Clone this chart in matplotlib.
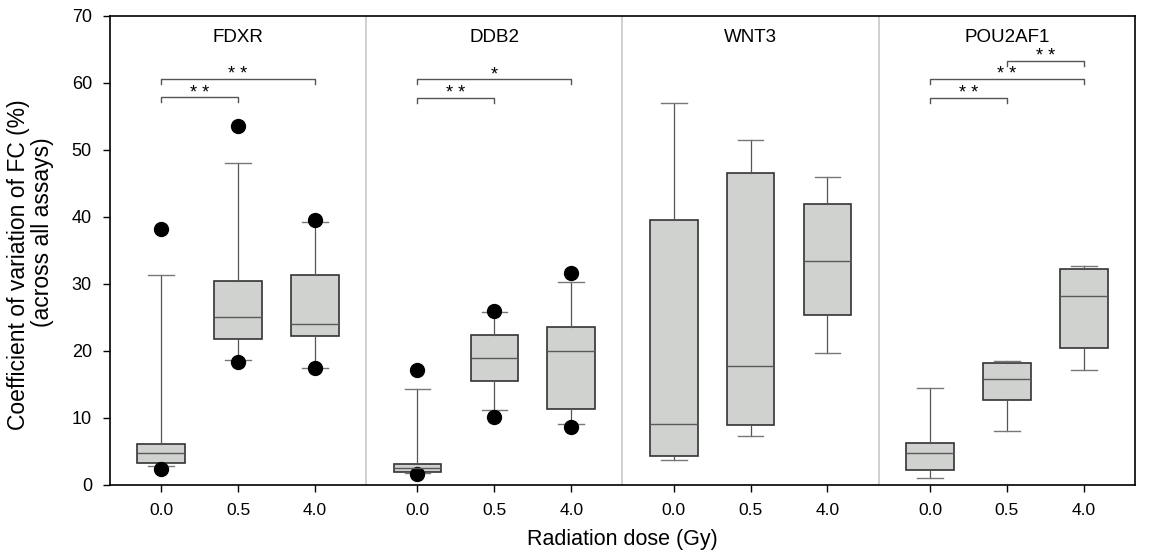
import matplotlib
matplotlib.use('Agg')
import matplotlib.pyplot as plt

plt.rcParams.update({
    'font.family': ['Liberation Sans', 'DejaVu Sans'],
    'font.size': 13,
})

GENES = ['FDXR', 'DDB2', 'WNT3', 'POU2AF1']
DOSES = ['0.0', '0.5', '4.0']

# box statistics per gene, per dose (0.0, 0.5, 4.0)
WHISLO = [[2.8, 18.7, 17.4], [1.8, 11.2, 9.1], [3.7, 7.3, 19.7], [1.1, 8.0, 17.2]]
Q1 = [[3.3, 21.8, 22.2], [1.9, 15.5, 11.3], [4.3, 8.9, 25.3], [2.2, 12.7, 20.4]]
MED = [[4.7, 25.1, 24.0], [2.6, 18.9, 20.0], [9.1, 17.8, 33.4], [4.8, 15.8, 28.2]]
Q3 = [[6.1, 30.5, 31.4], [3.1, 22.4, 23.6], [39.6, 46.5, 41.9], [6.2, 18.2, 32.3]]
WHISHI = [[31.4, 48.1, 39.2], [14.3, 25.8, 30.3], [57.0, 51.5, 45.9], [14.5, 18.5, 32.7]]
FLIERS = [[[2.4, 38.2], [18.3, 53.6], [17.4, 39.6]],
          [[1.6, 17.1], [10.1, 26.0], [8.7, 31.6]],
          [[], [], []],
          [[], [], []]]

# significance brackets: (gene index, dose from, dose to, height, label)
SIG = [(0, 0, 1, 57.9, '* *'), (0, 0, 2, 60.6, '* *'),
       (1, 0, 1, 57.8, '* *'), (1, 0, 2, 60.6, '*'),
       (3, 0, 1, 57.8, '* *'), (3, 0, 2, 60.6, '* *'), (3, 1, 2, 63.3, '* *')]

OFFSETS = [0.2, 0.5, 0.8]

fig = plt.figure(figsize=(11.55, 5.59), dpi=100)
ax = fig.add_axes([0.0952, 0.1324, 0.8875, 0.839])

stats, positions = [], []
for g in range(len(GENES)):
    for d in range(len(DOSES)):
        stats.append(dict(med=MED[g][d], q1=Q1[g][d], q3=Q3[g][d],
                          whislo=WHISLO[g][d], whishi=WHISHI[g][d],
                          fliers=FLIERS[g][d]))
        positions.append(g + OFFSETS[d])

ax.bxp(stats, positions=positions, widths=0.186, patch_artist=True,
       showfliers=True,
       boxprops=dict(facecolor='#d0d2d0', edgecolor='#333333', linewidth=1.2),
       medianprops=dict(color='#5a5a5a', linewidth=1.0),
       whiskerprops=dict(color='#555555', linewidth=0.9),
       capprops=dict(color='#777777', linewidth=1.0),
       capwidths=0.1,
       flierprops=dict(marker='o', markerfacecolor='black',
                       markeredgecolor='black', markersize=10))

for g in range(1, len(GENES)):
    ax.axvline(g, color='#c8c8c8', linewidth=1.2, zorder=0)

for g, name in enumerate(GENES):
    ax.text(g + 0.5, 66.8, name, ha='center', va='center', fontsize=13.5)

for g, a, b, h, lab in SIG:
    x0, x1 = g + OFFSETS[a], g + OFFSETS[b]
    ax.plot([x0, x0, x1, x1], [h - 0.8, h, h, h - 0.8], color='#555555',
            linewidth=1.0)
    ax.text((x0 + x1) / 2, h + 0.6, lab, ha='center', va='center', fontsize=13)

ax.set_xlim(0, 4)
ax.set_ylim(0, 70)
ax.set_yticks(range(0, 71, 10))
ax.set_xticks(positions)
ax.set_xticklabels(DOSES * len(GENES))
ax.tick_params(direction='out', length=5, width=1, labelsize=12.5, pad=8)
ax.tick_params(axis='y', labelsize=13)
for s in ax.spines.values():
    s.set_linewidth(1.2)

ax.set_xlabel('Radiation dose (Gy)', fontsize=15.5, labelpad=8)
fig.text(19 / 1155, 1 - 265 / 559, 'Coefficient of variation of FC (%)',
         rotation=90, ha='center', va='center', fontsize=16.5)
fig.text(43 / 1155, 1 - 232 / 559, '(across all assays)',
         rotation=90, ha='center', va='center', fontsize=16.5)

fig.savefig('out.png', dpi=100)
